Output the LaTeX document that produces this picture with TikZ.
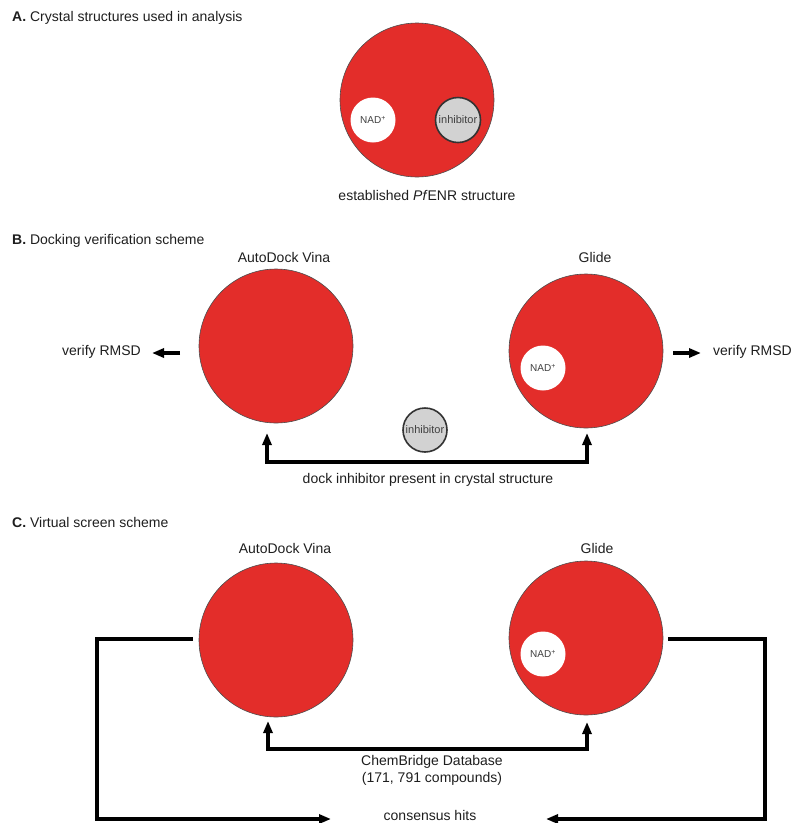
\documentclass[tikz,border=0pt]{standalone}
\usepackage{fontspec}
\setmainfont{Liberation Sans}
\usetikzlibrary{arrows.meta}
\definecolor{pred}{RGB}{227,45,42}
\definecolor{pgray}{RGB}{210,210,210}
\definecolor{ink}{RGB}{30,30,30}
\tikzset{
  protein/.style={circle, fill=pred, draw=black!70, line width=0.6pt, minimum size=154pt, inner sep=0pt},
  nad/.style={circle, fill=white, minimum size=45pt, inner sep=0pt, text=black!75, font=\fontsize{10}{12}\selectfont},
  inhib/.style={circle, fill=pgray, draw=black!80, line width=1.6pt, minimum size=45pt, inner sep=0pt, text=black!75, font=\fontsize{11}{13}\selectfont},
  lbl/.style={text=ink, font=\fontsize{14}{16}\selectfont, inner sep=0pt},
  conn/.style={line width=3.5pt, draw=black, line join=miter},
  tip/.style={-{Triangle[length=12pt,width=9pt]}},
  tips/.style={{Triangle[length=12pt,width=9pt]}-{Triangle[length=12pt,width=9pt]}},
}
\begin{document}
\begin{tikzpicture}[x=1pt,y=-1pt]
\useasboundingbox (0,0) rectangle (794,823);
% ---------- A ----------
\node[lbl, anchor=west] (titleA) at (12,18) {\textbf{A.} Crystal structures used in analysis};
\node[protein] (pA) at (417,100) {};
\node[nad] (nadA) at (373,120) {NAD\textsuperscript{+}};
\node[inhib] (inhA) at (458,120) {inhibitor};
\node[lbl] (capA) at (427,195) {established \textit{Pf}ENR structure};
% ---------- B ----------
\node[lbl, anchor=west] (titleB) at (12,241) {\textbf{B.} Docking verification scheme};
\node[lbl] (vinaBl) at (284,257) {AutoDock Vina};
\node[lbl] (glideBl) at (595,257) {Glide};
\node[protein] (vinaB) at (276,346) {};
\node[protein] (glideB) at (586,351) {};
\node[nad] (nadB) at (543,368) {NAD\textsuperscript{+}};
\node[inhib, minimum size=44pt] (inhB) at (425,430) {inhibitor};
\node[lbl] (dockB) at (428,480) {dock inhibitor present in crystal structure};
\coordinate (bL1) at (267,433);
\coordinate (bL2) at (267,462);
\coordinate (bR2) at (587,462);
\coordinate (bR1) at (587,433);
\draw[conn, tips] (bL1) -- (bL2) -- (bR2) -- (bR1);
\node[lbl, anchor=west] (rmsdL) at (62,352) {verify RMSD};
\node[lbl, anchor=west] (rmsdR) at (713,352) {verify RMSD};
\coordinate (aLs) at (180,353);
\coordinate (aLe) at (152,353);
\coordinate (aRs) at (673,353);
\coordinate (aRe) at (701,353);
\draw[conn, tip] (aLs) -- (aLe);
\draw[conn, tip] (aRs) -- (aRe);
% ---------- C ----------
\node[lbl, anchor=west] (titleC) at (12,522) {\textbf{C.} Virtual screen scheme};
\node[lbl] (vinaCl) at (285,548) {AutoDock Vina};
\node[lbl] (glideCl) at (597,548) {Glide};
\node[protein] (vinaC) at (276,640) {};
\node[protein] (glideC) at (586,638) {};
\node[nad] (nadC) at (543,654) {NAD\textsuperscript{+}};
\coordinate (cL1) at (268,721);
\coordinate (cL2) at (268,749);
\coordinate (cR2) at (587,749);
\coordinate (cR1) at (587,722);
\draw[conn, tips] (cL1) -- (cL2) -- (cR2) -- (cR1);
\node[lbl, align=center] (db) at (432,770) {ChemBridge Database\\[1pt](171, 791 compounds)};
\node[lbl] (hits) at (430,815) {consensus hits};
\coordinate (lo1) at (193,639);
\coordinate (lo2) at (97,639);
\coordinate (lo3) at (97,819);
\coordinate (lo4) at (331,819);
\draw[conn, tip] (lo1) -- (lo2) -- (lo3) -- (lo4);
\coordinate (ro1) at (668,639);
\coordinate (ro2) at (765,639);
\coordinate (ro3) at (765,819);
\coordinate (ro4) at (546,819);
\draw[conn, tip] (ro1) -- (ro2) -- (ro3) -- (ro4);
\end{tikzpicture}
\end{document}
